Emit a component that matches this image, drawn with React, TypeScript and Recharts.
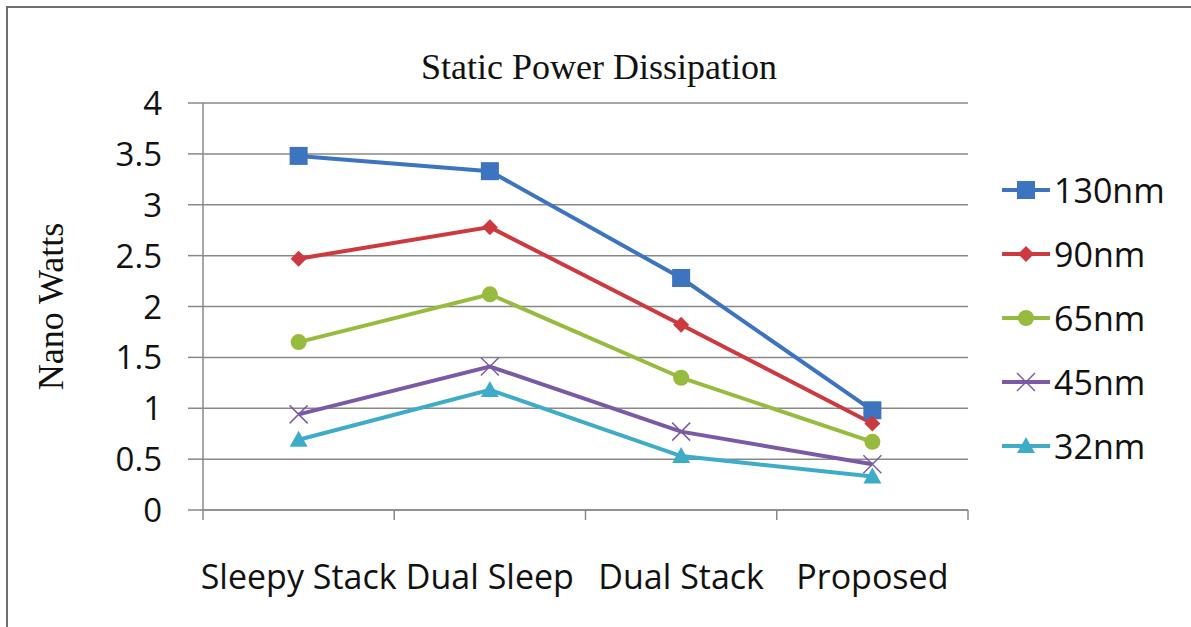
import { LineChart, Line, XAxis, YAxis, CartesianGrid } from "recharts";

// Static power per technique, nano watts, one array per process node
const categories = ["Sleepy Stack", "Dual Sleep", "Dual Stack", "Proposed"];
const nm130 = [3.48, 3.33, 2.28, 0.98];
const nm90 = [2.47, 2.78, 1.82, 0.85];
const nm65 = [1.65, 2.12, 1.3, 0.67];
const nm45 = [0.94, 1.41, 0.77, 0.45];
const nm32 = [0.69, 1.18, 0.53, 0.33];
const yTicks = [0, 0.5, 1, 1.5, 2, 2.5, 3, 3.5, 4];

type Shape = "square" | "diamond" | "circle" | "cross" | "triangle";

const series: { key: string; name: string; values: number[]; color: string; shape: Shape }[] = [
  { key: "n130", name: "130nm", values: nm130, color: "#3d74c0", shape: "square" },
  { key: "n90", name: "90nm", values: nm90, color: "#cc3a40", shape: "diamond" },
  { key: "n65", name: "65nm", values: nm65, color: "#97bb3e", shape: "circle" },
  { key: "n45", name: "45nm", values: nm45, color: "#7a5aa6", shape: "cross" },
  { key: "n32", name: "32nm", values: nm32, color: "#3eacc8", shape: "triangle" },
];

const data = categories.map((name, i) => {
  const row: Record<string, string | number> = { name };
  series.forEach((s) => (row[s.key] = s.values[i]));
  return row;
});

const SANS = "'Open Sans', 'DejaVu Sans', sans-serif";
const SERIF = "'Liberation Serif', 'DejaVu Serif', serif";
const GRID = "#888888";

function Marker({ shape, color, cx, cy }: { shape: Shape; color: string; cx: number; cy: number }) {
  switch (shape) {
    case "square":
      return <rect x={cx - 9} y={cy - 9} width={18} height={18} fill={color} />;
    case "diamond":
      return <polygon points={`${cx},${cy - 8} ${cx + 8},${cy} ${cx},${cy + 8} ${cx - 8},${cy}`} fill={color} />;
    case "circle":
      return <circle cx={cx} cy={cy} r={8} fill={color} />;
    case "cross":
      return (
        <g stroke={color} strokeWidth={1.5}>
          <line x1={cx - 9} y1={cy - 9} x2={cx + 9} y2={cy + 9} />
          <line x1={cx - 9} y1={cy + 9} x2={cx + 9} y2={cy - 9} />
        </g>
      );
    case "triangle":
      return <polygon points={`${cx},${cy - 9} ${cx + 9},${cy + 7} ${cx - 9},${cy + 7}`} fill={color} />;
  }
}

// Category labels sit mid-band; tick marks go on the band edges
function CategoryTick(props: any) {
  const { x, y, payload, index } = props;
  const half = payload?.offset || 95.6;
  const axisY = y - 10;
  return (
    <g>
      <line x1={x - half} y1={axisY} x2={x - half} y2={axisY + 10} stroke={GRID} strokeWidth={1.5} />
      {index === categories.length - 1 && (
        <line x1={x + half} y1={axisY} x2={x + half} y2={axisY + 10} stroke={GRID} strokeWidth={1.5} />
      )}
      <text x={x} y={axisY + 79} textAnchor="middle" fontFamily={SANS} fontSize={34} fill="#111">
        {payload.value}
      </text>
    </g>
  );
}

function ValueTick(props: any) {
  const { x, y, payload } = props;
  return (
    <text x={x} y={y + 12} textAnchor="end" fontFamily={SANS} fontSize={33} fill="#111">
      {payload.value}
    </text>
  );
}

export default function App() {
  return (
    <div style={{ position: "absolute", left: 0, top: 0, width: 1191, height: 627, background: "#fff", overflow: "hidden" }}>
      <div
        style={{
          position: "absolute",
          left: 6,
          top: 6,
          width: 1200,
          height: 640,
          borderLeft: "2px solid #6e6e6e",
          borderTop: "2px solid #6e6e6e",
        }}
      />
      <div
        style={{
          position: "absolute",
          left: 0,
          width: 1198,
          top: 46,
          textAlign: "center",
          fontFamily: SERIF,
          fontSize: 36,
          color: "#111",
        }}
      >
        Static Power Dissipation
      </div>
      <LineChart width={1191} height={627} data={data} margin={{ top: 103, right: 223, bottom: 0, left: 0 }}>
        <CartesianGrid vertical={false} stroke={GRID} strokeWidth={1.5} />
        <XAxis
          dataKey="name"
          scale="band"
          height={117}
          stroke={GRID}
          strokeWidth={1.5}
          tickLine={false}
          tickSize={10}
          tickMargin={0}
          interval={0}
          tick={<CategoryTick />}
        />
        <YAxis
          width={203}
          domain={[0, 4]}
          ticks={yTicks}
          stroke={GRID}
          strokeWidth={1.5}
          tickSize={15}
          tickMargin={26}
          tick={<ValueTick />}
          label={{
            value: "Nano Watts",
            angle: -90,
            position: "insideLeft",
            offset: 50,
            style: { fontFamily: SERIF, fontSize: 36, fill: "#111", textAnchor: "middle" },
          }}
        />
        {series.map((s) => (
          <Line
            key={s.key}
            dataKey={s.key}
            name={s.name}
            stroke={s.color}
            strokeWidth={4}
            isAnimationActive={false}
            dot={(p: any) => <Marker key={`${s.key}-${p.index}`} shape={s.shape} color={s.color} cx={p.cx} cy={p.cy} />}
            activeDot={false}
          />
        ))}
      </LineChart>
      <div style={{ position: "absolute", left: 1000, top: 158 }}>
        {series.map((s) => (
          <div key={s.key} style={{ display: "flex", alignItems: "center", height: 64 }}>
            <svg width={52} height={24}>
              <line x1={2} y1={12} x2={50} y2={12} stroke={s.color} strokeWidth={4} />
              <Marker shape={s.shape} color={s.color} cx={26} cy={12} />
            </svg>
            <span style={{ fontFamily: SANS, fontSize: 34, color: "#111", marginLeft: 2 }}>{s.name}</span>
          </div>
        ))}
      </div>
    </div>
  );
}
